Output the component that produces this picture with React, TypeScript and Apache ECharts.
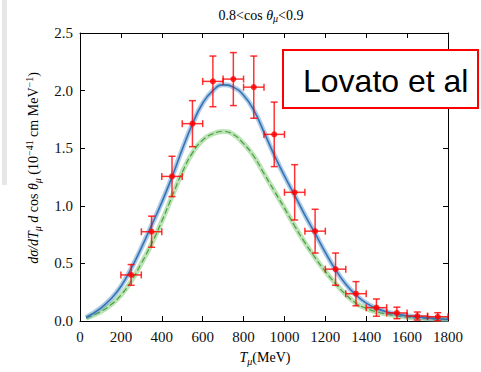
import React, { useEffect, useRef } from "react";
import * as echarts from "echarts";

// Data points
const dataT = [250, 350, 450, 550, 650, 750, 850, 950, 1050, 1150, 1250, 1350, 1450, 1550, 1650, 1750];
const dataXsec = [0.40, 0.775, 1.255, 1.713, 2.08, 2.10, 2.03, 1.62, 1.117, 0.78, 0.45, 0.237, 0.116, 0.07, 0.043, 0.037];
const dataYErr = [0.09, 0.135, 0.175, 0.2, 0.22, 0.23, 0.27, 0.28, 0.24, 0.19, 0.14, 0.105, 0.075, 0.05, 0.035, 0.035];
const dataXErr = [50, 50, 50, 50, 50, 50, 50, 50, 50, 50, 50, 50, 50, 50, 50, 50];

// Theory curves
const curveT = [30, 100, 150, 200, 250, 300, 350, 400, 450, 500, 550, 600, 650, 700, 750, 800, 850, 900, 950, 1000, 1050, 1100, 1150, 1200, 1250, 1300, 1350, 1400, 1450, 1500, 1550, 1600, 1650, 1700, 1750, 1800];
const blueCurve = [0.03, 0.11, 0.19, 0.30, 0.455, 0.635, 0.83, 1.03, 1.25, 1.49, 1.71, 1.89, 2.00, 2.05, 2.03, 1.96, 1.83, 1.64, 1.44, 1.26, 1.09, 0.92, 0.76, 0.595, 0.445, 0.32, 0.225, 0.155, 0.11, 0.08, 0.06, 0.045, 0.035, 0.027, 0.02, 0.015];
const greenCurve = [0.025, 0.08, 0.14, 0.225, 0.345, 0.50, 0.67, 0.865, 1.08, 1.29, 1.46, 1.57, 1.625, 1.645, 1.62, 1.54, 1.43, 1.28, 1.13, 0.98, 0.825, 0.68, 0.55, 0.43, 0.325, 0.23, 0.155, 0.11, 0.08, 0.06, 0.045, 0.033, 0.025, 0.02, 0.015, 0.012];

const xTicks = [0, 200, 400, 600, 800, 1000, 1200, 1400, 1600, 1800];
const yTicks = [0.0, 0.5, 1.0, 1.5, 2.0, 2.5];

const SERIF = "'Liberation Serif', 'DejaVu Serif', serif";

export default function App() {
  const ref = useRef<HTMLDivElement>(null);
  useEffect(() => {
    if (!ref.current) return;
    const chart = echarts.init(ref.current, null, { renderer: "svg" });
    const blueData = curveT.map((t, i) => [t, blueCurve[i]]);
    const greenData = curveT.map((t, i) => [t, greenCurve[i]]);
    const errData = dataT.map((t, i) => [t, dataXsec[i], dataYErr[i], dataXErr[i]]);
    const ptData = dataT.map((t, i) => [t, dataXsec[i]]);
    const errColor = "rgba(255,0,0,0.8)";

    const axisCommon = {
      min: 0,
      axisLine: { show: true, onZero: false, lineStyle: { color: "#000", width: 1 } },
      axisTick: { show: true, inside: true, length: 5, lineStyle: { color: "#000" } },
      splitLine: { show: false },
    };

    chart.setOption({
      animation: false,
      backgroundColor: "#fff",
      grid: { left: 80, right: 33, top: 33, bottom: 51 },
      xAxis: [
        {
          ...axisCommon,
          type: "value",
          max: 1800,
          interval: 200,
          axisLabel: {
            fontFamily: SERIF,
            fontSize: 15,
            color: "#111",
            margin: 8,
            formatter: (v: number) => (xTicks.includes(v) ? String(v) : ""),
          },
        },
        {
          ...axisCommon,
          type: "value",
          position: "top",
          max: 1800,
          interval: 200,
          axisLabel: { show: false },
        },
      ],
      yAxis: [
        {
          ...axisCommon,
          type: "value",
          max: 2.5,
          interval: 0.5,
          axisLabel: {
            fontFamily: SERIF,
            fontSize: 15,
            color: "#111",
            margin: 7,
            formatter: (v: number) => {
              const t = yTicks.find((y) => Math.abs(y - v) < 1e-6);
              return t === undefined ? "" : t.toFixed(1);
            },
          },
        },
        {
          ...axisCommon,
          type: "value",
          position: "right",
          max: 2.5,
          interval: 0.5,
          axisLabel: { show: false },
        },
      ],
      series: [
        {
          type: "line",
          data: greenData,
          smooth: true,
          showSymbol: false,
          silent: true,
          lineStyle: { color: "rgba(120,200,110,0.5)", width: 5 },
          z: 2,
        },
        {
          type: "line",
          data: greenData,
          smooth: true,
          showSymbol: false,
          silent: true,
          lineStyle: { color: "#4a9e40", width: 1.2, type: [6, 3] },
          z: 3,
        },
        {
          type: "line",
          data: blueData,
          smooth: true,
          showSymbol: false,
          silent: true,
          lineStyle: { color: "rgba(80,140,200,0.45)", width: 5 },
          z: 4,
        },
        {
          type: "line",
          data: blueData,
          smooth: true,
          showSymbol: false,
          silent: true,
          lineStyle: { color: "#3474b4", width: 1.6 },
          z: 5,
        },
        {
          type: "custom",
          data: errData,
          z: 6,
          renderItem: (params: any, api: any) => {
            const x = api.value(0);
            const y = api.value(1);
            const ey = api.value(2);
            const ex = api.value(3);
            const top = api.coord([x, y + ey]);
            const bot = api.coord([x, y - ey]);
            const l = api.coord([x - ex, y]);
            const r = api.coord([x + ex, y]);
            const cap = 3.5;
            const st = { stroke: errColor, lineWidth: 1.5 };
            return {
              type: "group",
              children: [
                { type: "line", shape: { x1: top[0], y1: top[1], x2: bot[0], y2: bot[1] }, style: st },
                { type: "line", shape: { x1: l[0], y1: l[1], x2: r[0], y2: r[1] }, style: st },
                { type: "line", shape: { x1: top[0] - cap, y1: top[1], x2: top[0] + cap, y2: top[1] }, style: st },
                { type: "line", shape: { x1: bot[0] - cap, y1: bot[1], x2: bot[0] + cap, y2: bot[1] }, style: st },
                { type: "line", shape: { x1: l[0], y1: l[1] - cap, x2: l[0], y2: l[1] + cap }, style: st },
                { type: "line", shape: { x1: r[0], y1: r[1] - cap, x2: r[0], y2: r[1] + cap }, style: st },
              ],
            };
          },
        },
        {
          type: "scatter",
          data: ptData,
          symbol: "circle",
          symbolSize: 6,
          itemStyle: { color: "#ff0000" },
          z: 7,
        },
      ],
      graphic: [
        { type: "rect", left: 2, top: 0, shape: { width: 5, height: 185 }, style: { fill: "#e6e6e6" }, silent: true },
        {
          type: "text",
          x: 261,
          y: 15,
          style: {
            text: "{r|0.8<cos }{i|θ}{s|μ}{r|<0.9}",
            align: "center",
            verticalAlign: "middle",
            rich: {
              r: { fontFamily: SERIF, fontSize: 14, color: "#111", lineHeight: 17 },
              i: { fontFamily: SERIF, fontSize: 14, fontStyle: "italic", color: "#111", lineHeight: 17 },
              s: { fontFamily: SERIF, fontSize: 10, fontStyle: "italic", color: "#111", lineHeight: 10, verticalAlign: "bottom" },
            },
          },
        },
        {
          type: "text",
          x: 265,
          y: 357,
          style: {
            text: "{i|T}{s|μ}{r|(MeV)}",
            align: "center",
            verticalAlign: "middle",
            rich: {
              r: { fontFamily: SERIF, fontSize: 14, color: "#111", lineHeight: 18 },
              i: { fontFamily: SERIF, fontSize: 14, fontStyle: "italic", color: "#111", lineHeight: 18 },
              s: { fontFamily: SERIF, fontSize: 10, fontStyle: "italic", color: "#111", lineHeight: 10, verticalAlign: "bottom" },
            },
          },
        },
        {
          type: "text",
          x: 33,
          y: 168,
          rotation: Math.PI / 2,
          style: {
            text: "{i|dσ/dT}{s|μ}{i| d}{r| cos }{i|θ}{s|μ}{r| (10}{p|−41}{r| cm MeV}{p|−1}{r|)}",
            align: "center",
            verticalAlign: "middle",
            rich: {
              r: { fontFamily: SERIF, fontSize: 14, color: "#111", lineHeight: 18 },
              i: { fontFamily: SERIF, fontSize: 14, fontStyle: "italic", color: "#111", lineHeight: 18 },
              s: { fontFamily: SERIF, fontSize: 10, fontStyle: "italic", color: "#111", lineHeight: 10, verticalAlign: "bottom" },
              p: { fontFamily: SERIF, fontSize: 10, color: "#111", lineHeight: 10, verticalAlign: "top" },
            },
          },
        },
        {
          type: "rect",
          shape: { x: 283, y: 50, width: 195, height: 58 },
          style: { fill: "#fff", stroke: "#ff0000", lineWidth: 2 },
          z: 100,
        },
        {
          type: "text",
          x: 303,
          y: 81,
          z: 101,
          style: {
            text: "Lovato et al",
            fontFamily: "'Liberation Sans', Arial, sans-serif",
            fontSize: 32,
            fill: "#000",
            align: "left",
            verticalAlign: "middle",
          },
        },
      ],
    });
    return () => chart.dispose();
  }, []);
  return <div ref={ref} style={{ width: 481, height: 372, position: "absolute", left: 0, top: 0 }} />;
}
